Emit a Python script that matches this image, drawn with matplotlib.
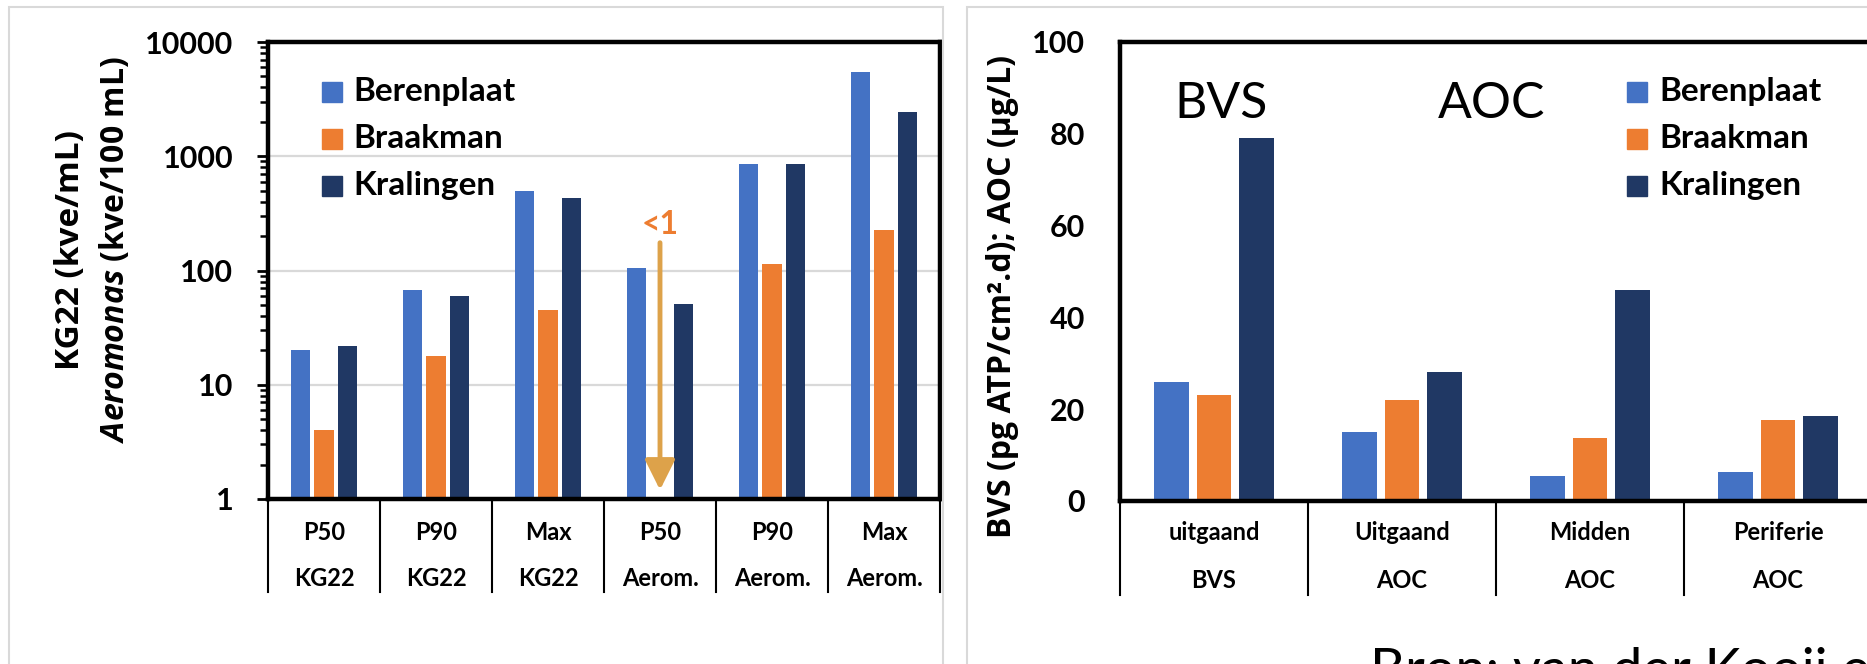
import numpy as np
import matplotlib
matplotlib.use("Agg")
import matplotlib.pyplot as plt
from matplotlib.patches import Rectangle
from matplotlib.lines import Line2D
from matplotlib.ticker import LogLocator, NullFormatter
from matplotlib.transforms import blended_transform_factory

# ---------------- data ----------------
series = ["Berenplaat", "Braakman", "Kralingen"]
colors = ["#4472C4", "#ED7D31", "#203864"]

left_stat = ["P50", "P90", "Max", "P50", "P90", "Max"]
left_param = ["KG22", "KG22", "KG22", "Aerom.", "Aerom.", "Aerom."]
berenplaat_left = [20, 67, 500, 105, 860, 5500]
braakman_left = [4, 18, 45, np.nan, 115, 225]      # P50 Aeromonas Braakman: <1
kralingen_left = [22, 60, 430, 51, 860, 2450]
left_ticks = [1, 10, 100, 1000, 10000]

right_loc = ["uitgaand", "Uitgaand", "Midden", "Periferie"]
right_param = ["BVS", "AOC", "AOC", "AOC"]
berenplaat_right = [26, 15, 5.4, 6.3]
braakman_right = [23, 22, 13.7, 17.6]
kralingen_right = [79, 28, 46, 18.5]
right_ticks = [0, 20, 40, 60, 80, 100]

below_label = "<1"
below_cat = 3
arrow_from, arrow_to = 175, 1.2

# ---------------- figure ----------------
W, H, DPI = 1867, 664, 100
plt.rcParams["mathtext.fontset"] = "custom"
plt.rcParams["mathtext.it"] = "Open Sans:italic:bold"
plt.rcParams["mathtext.rm"] = "Open Sans:bold"
plt.rcParams["mathtext.bf"] = "Open Sans:bold"

fig = plt.figure(figsize=(W / DPI, H / DPI), dpi=DPI)
fig.patch.set_facecolor("white")


def fx(px):
    return px / W


def fy(py):
    return 1 - py / H


TICK_FONT = dict(family="Lato", weight="bold", size=22)
LEG_FONT = dict(family="Lato", weight="bold", size=24)
CAT_FONT = dict(family="Lato", weight="bold", size=17)
LAB_FONT = dict(family="Open Sans", weight="bold", size=23)

# light panel frames
fig.patches.append(Rectangle((fx(9), fy(720)), fx(943) - fx(9), (720 - 7) / H,
                             transform=fig.transFigure, fill=False,
                             edgecolor="#D9D9D9", lw=1.5))
fig.patches.append(Rectangle((fx(967), fy(720)), fx(1950) - fx(967), (720 - 7) / H,
                             transform=fig.transFigure, fill=False,
                             edgecolor="#D9D9D9", lw=1.5))


def style_spines(ax, lw=3.2):
    for s in ax.spines.values():
        s.set_linewidth(lw)
        s.set_color("black")


def category_axis(ax, rows1, rows2, y_axis_px, y1, y2, y_end):
    tr = blended_transform_factory(ax.transData, fig.transFigure)
    n = len(rows1)
    for i in range(n):
        ax.text(i, fy(y1), rows1[i], transform=tr, ha="center", va="center", **CAT_FONT)
        ax.text(i, fy(y2), rows2[i], transform=tr, ha="center", va="center", **CAT_FONT)
    for b in np.arange(-0.5, n, 1.0):
        ax.add_line(Line2D([b, b], [fy(y_axis_px), fy(y_end)], transform=tr,
                           color="black", lw=1.5, clip_on=False))


def legend(x_sq, x_txt, y0):
    for i, (name, c) in enumerate(zip(series, colors)):
        yc = y0 + 47 * i
        fig.patches.append(Rectangle((fx(x_sq), fy(yc + 10)), 20 / W, 20 / H,
                                     transform=fig.transFigure, color=c))
        fig.text(fx(x_txt), fy(yc), name, ha="left", va="center", **LEG_FONT)


# ---------------- left chart (log) ----------------
ax1 = fig.add_axes([fx(268), fy(499), fx(940) - fx(268), (499 - 42) / H])
x = np.arange(len(left_stat))
pitch, bw = 0.214, 0.17
for k, vals in enumerate([berenplaat_left, braakman_left, kralingen_left]):
    ax1.bar(x + (k - 1) * pitch, vals, width=bw, color=colors[k], zorder=2)
ax1.set_yscale("log")
ax1.set_ylim(1, 10000)
ax1.set_xlim(-0.5, len(left_stat) - 0.5)
ax1.set_yticks(left_ticks, labels=[str(t) for t in left_ticks])
ax1.yaxis.set_minor_locator(LogLocator(base=10, subs=np.arange(2, 10)))
ax1.yaxis.set_minor_formatter(NullFormatter())
ax1.tick_params(axis="y", which="major", direction="out", length=8, width=2, pad=17)
ax1.tick_params(axis="y", which="minor", direction="out", length=5.5, width=1.8)
ax1.tick_params(axis="x", bottom=False, labelbottom=False)
for lab in ax1.get_yticklabels():
    lab.set_fontfamily("Lato")
    lab.set_fontweight("bold")
    lab.set_fontsize(22)
ax1.yaxis.grid(True, which="major", color="#D9D9D9", lw=1.6, zorder=0)
ax1.set_axisbelow(True)
style_spines(ax1)
category_axis(ax1, left_stat, left_param, 499, 532, 578, 592)

# "<1" marker for the missing Braakman value
ax1.annotate("", xy=(below_cat, arrow_to), xytext=(below_cat, arrow_from),
             arrowprops=dict(arrowstyle="-|>,head_length=1.0,head_width=0.5",
                             color="#DDA24A", lw=3.5, mutation_scale=18,
                             shrinkA=0, shrinkB=0), zorder=3)
ax1.text(below_cat, arrow_from * 1.08, below_label, ha="center", va="bottom",
         color="#ED7D31", family="Lato", weight="bold", size=23)

legend(322, 353, 92)

fig.text(fx(70), fy(250), "KG22 (kve/mL)", rotation=90, ha="center", va="center",
         family="Open Sans", weight="bold", size=24)
fig.text(fx(115), fy(250), r"$Aeromonas$ (kve/100 mL)", rotation=90,
         ha="center", va="center", **LAB_FONT)

# ---------------- right chart (linear) ----------------
ax2 = fig.add_axes([fx(1120), fy(501), fx(1872) - fx(1120), (501 - 42) / H])
x = np.arange(len(right_loc))
pitch, bw = 0.225, 0.183
for k, vals in enumerate([berenplaat_right, braakman_right, kralingen_right]):
    ax2.bar(x + (k - 1) * pitch, vals, width=bw, color=colors[k], zorder=2)
ax2.set_ylim(0, 100)
ax2.set_xlim(-0.5, len(right_loc) - 0.5)
ax2.set_yticks(right_ticks, labels=[str(t) for t in right_ticks])
ax2.tick_params(axis="y", length=0, pad=25)
ax2.tick_params(axis="x", bottom=False, labelbottom=False)
for lab in ax2.get_yticklabels():
    lab.set_fontfamily("Lato")
    lab.set_fontweight("bold")
    lab.set_fontsize(22)
style_spines(ax2)
category_axis(ax2, right_loc, right_param, 501, 533, 580, 595)

fig.text(fx(1221), fy(104), "BVS", ha="center", va="center", family="Lato", size=36)
fig.text(fx(1492), fy(104), "AOC", ha="center", va="center", family="Lato", size=36)

legend(1627, 1659, 92)

fig.text(fx(1002), fy(297), "BVS (pg ATP/cm\u00b2.d); AOC (\u00b5g/L)", rotation=90,
         ha="center", va="center", **LAB_FONT)

fig.text(fx(1370), fy(687), "Bron: van der Kooij et al.", ha="left", va="baseline",
         family="Lato", size=39)

fig.savefig("out.png", dpi=DPI)
